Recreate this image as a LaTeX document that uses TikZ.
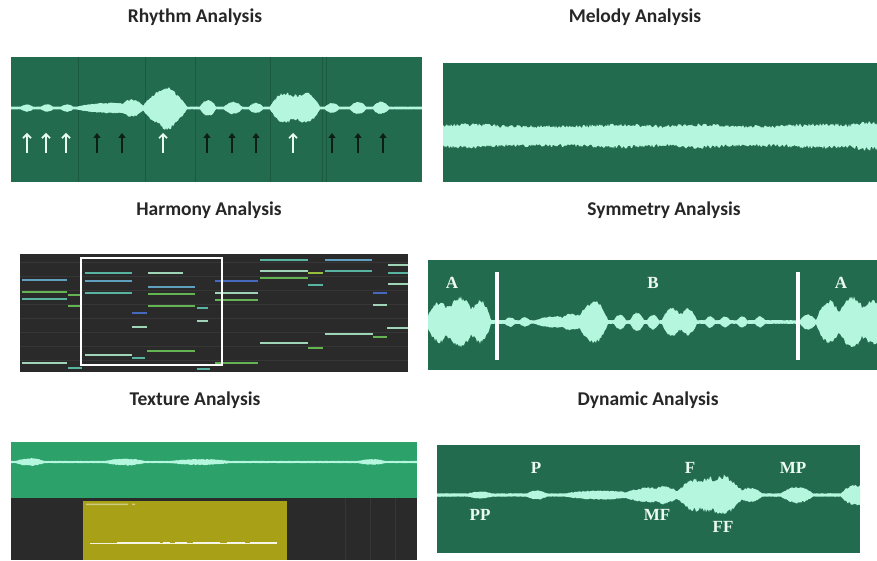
\documentclass[tikz,border=0pt]{standalone}
\usepackage{fontspec}
\usetikzlibrary{arrows.meta}
\newfontfamily\titlefont{Carlito}
\newfontfamily\labfont{Liberation Serif}
\definecolor{pgreen}{RGB}{35,107,78}
\definecolor{pline}{RGB}{28,90,64}
\definecolor{mint}{RGB}{180,246,222}
\definecolor{tgreen}{RGB}{44,162,106}
\definecolor{dgray}{RGB}{42,42,42}
\definecolor{rowline}{RGB}{54,54,54}
\definecolor{yell}{RGB}{168,160,22}
\definecolor{txt}{RGB}{38,38,38}
\definecolor{labw}{RGB}{236,250,243}
\definecolor{arrw}{RGB}{232,251,242}
\definecolor{arrb}{RGB}{12,30,22}
\definecolor{nteal}{RGB}{88,180,160}
\definecolor{nlblue}{RGB}{96,160,190}
\definecolor{nblue}{RGB}{70,105,190}
\definecolor{ngreen}{RGB}{100,180,84}
\definecolor{nlight}{RGB}{160,212,184}
\definecolor{nyg}{RGB}{150,190,60}
\begin{document}
\begin{tikzpicture}[x=1pt,y=-1pt,
  title/.style={font=\titlefont\bfseries\fontsize{19.5}{22}\selectfont,text=txt,anchor=base,inner sep=0pt},
  lab/.style={font=\labfont\bfseries\fontsize{17}{19}\selectfont,text=labw,inner sep=0pt},
  upw/.style={draw=arrw,line width=1.7pt,-{Straight Barb[length=4pt,width=8pt]}},
  upb/.style={draw=arrb,line width=1.7pt,-{Triangle[length=5pt,width=7pt]}},
  note/.style={line width=2.6pt},
  declare function={
    bmp(\t,\c,\w)=1-min(abs(\t-\c)/\w,1)^2;
    envA(\t)=1.5+2.5*bmp(\t,27,6)+2.5*bmp(\t,47,6)+2.5*bmp(\t,67,6)+4*bmp(\t,112,36)+5*bmp(\t,133,10)
      +18*bmp(\t,165,22)+3*bmp(\t,168,8)+7*bmp(\t,208,8)+5*bmp(\t,233,9)+4*bmp(\t,256,7)
      +12*bmp(\t,284,14)+12*bmp(\t,306,14)+3*bmp(\t,295,25)+4*bmp(\t,332,7)+5*bmp(\t,358,8)+5*bmp(\t,381,8);
    envB(\t)=11+2*bmp(\t,470,30)+1.5*bmp(\t,620,40)+2*bmp(\t,700,30)+2*bmp(\t,820,40)+4*bmp(\t,870,20);
    envD(\t)=2+16*bmp(\t,438,12)+18*bmp(\t,460,14)+17*bmp(\t,481,10)+6*bmp(\t,460,32)
      +3*bmp(\t,510,5)+3*bmp(\t,525,5)+4*bmp(\t,555,20)+6*bmp(\t,575,12)+20*bmp(\t,594,14)
      +6*bmp(\t,620,6)+8*bmp(\t,637,7)+6*bmp(\t,653,6)+13*bmp(\t,672,10)+12*bmp(\t,688,9)
      +4*bmp(\t,710,5)+4*bmp(\t,725,5)+4*bmp(\t,742,5)+4*bmp(\t,760,5)
      +6*bmp(\t,808,8)+17*bmp(\t,828,12)+19*bmp(\t,852,14)+19*bmp(\t,874,12)+6*bmp(\t,850,32);
    envE(\t)=1.2+3*bmp(\t,30,14)+2.5*bmp(\t,125,20)+2*bmp(\t,200,30)+2*bmp(\t,372,14);
    envF(\t)=1.8+2*bmp(\t,480,12)+3*bmp(\t,537,10)+3*bmp(\t,600,35)+6*bmp(\t,648,22)+6*bmp(\t,668,12)
      +15*bmp(\t,695,18)+19*bmp(\t,722,20)+6*bmp(\t,750,12)+7*bmp(\t,797,16)+9*bmp(\t,855,14);
  }]
\useasboundingbox (0,0) rectangle (877,561);
\fill[white] (0,0) rectangle (877,561);
\pgfmathsetseed{11}

% ---------- titles
\node[title] (t1) at (195,23) {Rhythm Analysis};
\node[title] (t2) at (635,23) {Melody Analysis};
\node[title] (t3) at (209,216) {Harmony Analysis};
\node[title] (t4) at (664,216) {Symmetry Analysis};
\node[title] (t5) at (195,405) {Texture Analysis};
\node[title] (t6) at (648,405) {Dynamic Analysis};

% ---------- Rhythm
\fill[pgreen] (11,57) rectangle (422,182);
\foreach \vx in {78,145,195,270,322,326}
  \draw[pline,line width=0.8pt] (\vx,57) -- (\vx,182);
\fill[mint] plot[domain=11:422,samples=412] (\x,{108-envA(\x)*(0.8+0.2*rnd)})
  -- plot[domain=422:11,samples=412] (\x,{108+envA(\x)*(0.8+0.2*rnd)}) -- cycle;
\foreach \ax in {27,46,66,163,293} \draw[upw] (\ax,153) -- (\ax,133);
\foreach \ax in {97,122,207,232,256,332,358,383} \draw[upb] (\ax,153) -- (\ax,133);

% ---------- Melody
\fill[pgreen] (443,63) rectangle (877,182);
\fill[mint] plot[domain=443:877,samples=435] (\x,{136-envB(\x)*(0.72+0.28*rnd)})
  -- plot[domain=877:443,samples=435] (\x,{136+envB(\x)*(0.72+0.28*rnd)}) -- cycle;

% ---------- Harmony
\fill[dgray] (20,254) rectangle (408,372);
\foreach \ry in {262,276,290,304,318,332,346,360}
  \draw[rowline,line width=0.5pt] (20,\ry) -- (408,\ry);
\foreach \xa/\xb/\ny/\nc in {
  22/67/280/nlblue, 22/67/292/ngreen, 22/67/299/nteal, 68/82/295/ngreen, 68/82/306/ngreen,
  85/132/273/nteal, 85/132/281/nlblue, 85/132/293/nteal,
  132/147/313/nblue, 132/147/327/nlight,
  148/183/273/nlight, 148/195/287/nlblue, 148/195/294/ngreen, 148/195/306/ngreen,
  197/208/308/nteal, 197/208/321/nlight,
  147/195/351/ngreen, 85/132/355/nlight, 132/145/358/nteal,
  22/67/363/nlight, 68/82/368/nteal, 197/210/369/nteal,
  215/258/281/nblue, 215/258/293/nlight, 215/258/300/ngreen, 215/258/363/ngreen,
  260/308/260/nteal, 260/308/271/nlight, 260/308/278/ngreen,
  308/323/273/nyg, 308/323/285/nteal,
  325/372/260/nlblue, 325/372/271/nteal,
  373/387/293/nblue, 373/387/305/nlight,
  388/408/265/nlight, 388/408/273/nteal, 388/408/284/nlight,
  260/308/343/nlight, 308/323/348/ngreen,
  325/373/334/nlight, 373/387/337/ngreen, 387/408/328/nlight}
  \draw[note,\nc] (\xa,\ny) -- (\xb,\ny);
\draw[white,line width=2.2pt] (81,258) rectangle (222,365);

% ---------- Symmetry
\fill[pgreen] (428,260) rectangle (877,370);
\fill[mint] plot[domain=428:877,samples=450] (\x,{322-envD(\x)*(0.8+0.2*rnd)})
  -- plot[domain=877:428,samples=450] (\x,{322+envD(\x)*(0.8+0.2*rnd)}) -- cycle;
\fill[white] (494.5,272) rectangle (498.5,360);
\fill[white] (796,272) rectangle (800,360);
\node[lab] (la1) at (452,283) {A};
\node[lab] (lb) at (653,283) {B};
\node[lab] (la2) at (841,283) {A};

% ---------- Texture
\fill[tgreen] (11,442) rectangle (417,498);
\fill[dgray] (11,498) rectangle (417,560);
\draw[rowline,line width=0.6pt] (345,498) -- (345,560) (370,498) -- (370,560) (395,498) -- (395,560);
\fill[mint] plot[domain=11:417,samples=407] (\x,{462-envE(\x)*(0.7+0.3*rnd)})
  -- plot[domain=417:11,samples=407] (\x,{462+envE(\x)*(0.7+0.3*rnd)}) -- cycle;
\fill[yell] (83,501) rectangle (287,560);
\fill[yell!55!white] (86,503.5) rectangle (128,505) (132,503.5) rectangle (135,505);
\draw[white!85!yell,line width=0.6pt] (90,543) -- (277,543);
\foreach \sa/\sb in {117/160,163/170,175/187,193/220,227/245,250/277}
  \draw[white!90!yell,line width=2.4pt] (\sa,543) -- (\sb,543);

% ---------- Dynamic
\fill[pgreen] (437,445) rectangle (860,553);
\fill[mint] plot[domain=437:860,samples=424] (\x,{495-envF(\x)*(0.75+0.25*rnd)})
  -- plot[domain=860:437,samples=424] (\x,{495+envF(\x)*(0.75+0.25*rnd)}) -- cycle;
\node[lab] (dp) at (536,468) {P};
\node[lab] (df) at (690,468) {F};
\node[lab] (dmp) at (793,468) {MP};
\node[lab] (dpp) at (480,515) {PP};
\node[lab] (dmf) at (657,515) {MF};
\node[lab] (dff) at (723,527) {FF};
\end{tikzpicture}
\end{document}
